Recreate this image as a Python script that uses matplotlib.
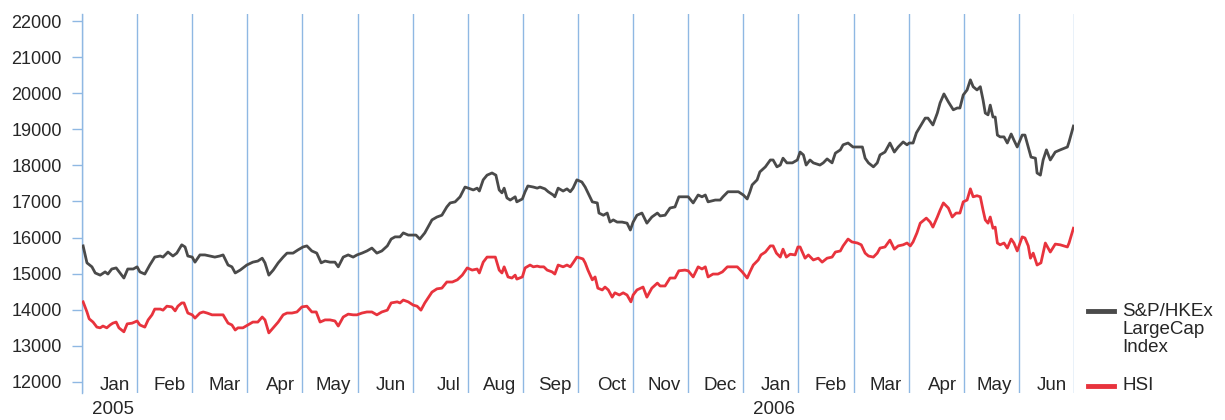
import matplotlib
matplotlib.use("Agg")
import matplotlib.pyplot as plt
import matplotlib.transforms as mtransforms
from matplotlib.lines import Line2D

plt.rcParams['font.family'] = ['Liberation Sans', 'DejaVu Sans']

months = ['Jan', 'Feb', 'Mar', 'Apr', 'May', 'Jun', 'Jul', 'Aug', 'Sep',
          'Oct', 'Nov', 'Dec', 'Jan', 'Feb', 'Mar', 'Apr', 'May', 'Jun']
years = ['2005', '2006']
year_month_index = [0, 12]
y_ticks = [12000, 13000, 14000, 15000, 16000, 17000, 18000, 19000, 20000, 21000, 22000]

# time in months since 1 Jan 2005
lc_t = [0.02, 0.09, 0.18, 0.24, 0.33, 0.42, 0.47, 0.54, 0.62, 0.69, 0.76, 0.83, 0.93,
        1.00, 1.05, 1.14, 1.23, 1.32, 1.42, 1.47, 1.56, 1.65, 1.72, 1.81, 1.87, 1.92,
        2.00, 2.05, 2.14, 2.23, 2.32, 2.41, 2.50, 2.56, 2.65, 2.72, 2.78, 2.87,
        2.99, 3.10, 3.19, 3.27, 3.32, 3.39, 3.47, 3.56, 3.65, 3.72, 3.83, 3.92,
        4.01, 4.08, 4.17, 4.26, 4.34, 4.41, 4.50, 4.59, 4.65, 4.74, 4.83, 4.92,
        4.99, 5.08, 5.17, 5.26, 5.35, 5.44, 5.54, 5.61, 5.68, 5.77, 5.83, 5.92,
        5.99, 6.06, 6.13, 6.22, 6.35, 6.44, 6.53, 6.62, 6.68, 6.77, 6.86, 6.95,
        7.01, 7.10, 7.17, 7.21, 7.28, 7.35, 7.44, 7.51, 7.57, 7.62, 7.66, 7.71, 7.77, 7.86, 7.89,
        7.99, 8.04, 8.09, 8.19, 8.26, 8.31, 8.40, 8.46, 8.55, 8.58, 8.64, 8.73, 8.80, 8.86, 8.91,
        8.98, 9.07, 9.13, 9.18, 9.26, 9.35, 9.38, 9.46, 9.53, 9.58, 9.64, 9.71, 9.80, 9.89, 9.95,
        10.00, 10.07, 10.16, 10.25, 10.34, 10.44, 10.49, 10.58, 10.67, 10.76, 10.83, 10.94,
        11.00, 11.09, 11.18, 11.25, 11.31, 11.36, 11.49, 11.58, 11.63, 11.72, 11.81, 11.91,
        12.00, 12.07, 12.12, 12.16, 12.25, 12.30, 12.40, 12.49, 12.54, 12.61, 12.67, 12.72, 12.79, 12.89,
        12.98, 13.03, 13.09, 13.14, 13.21, 13.27, 13.39, 13.45, 13.52, 13.61, 13.67, 13.76, 13.81, 13.90,
        13.99, 14.08, 14.16, 14.21, 14.27, 14.36, 14.43, 14.48, 14.57, 14.66, 14.74, 14.81, 14.90, 14.97,
        15.01, 15.08, 15.14, 15.19, 15.30, 15.35, 15.44, 15.52, 15.57, 15.64, 15.72, 15.81, 15.88, 15.93,
        15.99, 16.06, 16.12, 16.17, 16.24, 16.30, 16.35, 16.39, 16.44, 16.48, 16.53, 16.57, 16.61, 16.66,
        16.73, 16.79, 16.86, 16.91, 16.97, 17.06, 17.11, 17.17, 17.22, 17.30, 17.33, 17.39, 17.44, 17.50,
        17.57, 17.66, 17.75, 17.88, 17.91, 17.99]
lc_v = [15770, 15300, 15190, 15020, 14960, 15050, 14990, 15130, 15160, 15020, 14880, 15130, 15130,
        15190, 15050, 14990, 15240, 15460, 15490, 15460, 15600, 15490, 15570, 15800, 15740, 15490,
        15460, 15320, 15520, 15520, 15490, 15460, 15490, 15520, 15240, 15190, 15020, 15100,
        15240, 15320, 15350, 15430, 15300, 14960, 15100, 15300, 15460, 15570, 15570, 15660,
        15740, 15770, 15630, 15570, 15300, 15350, 15320, 15320, 15190, 15460, 15520, 15460,
        15520, 15570, 15630, 15710, 15570, 15630, 15770, 15960, 16020, 16020, 16130, 16070,
        16070, 16070, 15960, 16130, 16490, 16570, 16620, 16850, 16960, 16990, 17130, 17400,
        17370, 17320, 17370, 17290, 17600, 17730, 17790, 17730, 17320, 17240, 17370, 17100, 17040, 17130, 16990,
        17070, 17270, 17430, 17400, 17370, 17400, 17350, 17270, 17180, 17130, 17370, 17290, 17350, 17270, 17370,
        17600, 17540, 17400, 17240, 16990, 16960, 16680, 16620, 16680, 16430, 16490, 16430, 16430, 16400, 16210,
        16430, 16620, 16680, 16400, 16570, 16680, 16600, 16620, 16820, 16850, 17130, 17130,
        17130, 16960, 17180, 17130, 17180, 16990, 17040, 17040, 17130, 17270, 17270, 17270,
        17180, 17070, 17270, 17460, 17600, 17820, 17960, 18150, 18150, 17960, 18010, 18200, 18070, 18070,
        18150, 18370, 18290, 18010, 18150, 18070, 18010, 18070, 18180, 18070, 18340, 18430, 18570, 18620,
        18510, 18510, 18510, 18200, 18070, 17960, 18070, 18290, 18370, 18620, 18370, 18510, 18650, 18570,
        18620, 18620, 18900, 19030, 19310, 19310, 19120, 19450, 19730, 19980, 19760, 19540, 19590, 19590,
        19950, 20090, 20370, 20180, 20090, 20180, 19810, 19450, 19400, 19670, 19340, 19340, 18840, 18790,
        18790, 18620, 18870, 18700, 18510, 18840, 18840, 18510, 18230, 18200, 17790, 17730, 18150, 18430,
        18150, 18370, 18430, 18510, 18650, 19090]

hsi_t = [0.02, 0.09, 0.13, 0.20, 0.27, 0.33, 0.38, 0.45, 0.51, 0.56, 0.62, 0.67, 0.76, 0.82, 0.91,
         1.00, 1.05, 1.14, 1.20, 1.27, 1.32, 1.42, 1.47, 1.54, 1.63, 1.69, 1.74, 1.81, 1.85, 1.92,
         2.00, 2.05, 2.14, 2.20, 2.27, 2.36, 2.45, 2.56, 2.65, 2.72, 2.78, 2.83, 2.92,
         3.01, 3.10, 3.19, 3.27, 3.32, 3.39, 3.47, 3.56, 3.65, 3.72, 3.81, 3.90,
         3.99, 4.08, 4.17, 4.25, 4.32, 4.41, 4.50, 4.59, 4.65, 4.74, 4.83, 4.92,
         4.99, 5.08, 5.17, 5.26, 5.35, 5.44, 5.54, 5.61, 5.72, 5.77, 5.83, 5.92,
         6.01, 6.08, 6.15, 6.22, 6.35, 6.44, 6.53, 6.62, 6.72, 6.81, 6.90,
         6.99, 7.08, 7.17, 7.21, 7.28, 7.35, 7.50, 7.57, 7.62, 7.66, 7.73, 7.80, 7.86, 7.89,
         7.99, 8.04, 8.13, 8.19, 8.26, 8.31, 8.38, 8.44, 8.53, 8.58, 8.64, 8.73, 8.80, 8.86, 8.91,
         8.98, 9.09, 9.13, 9.18, 9.26, 9.31, 9.36, 9.44, 9.49, 9.55, 9.62, 9.67, 9.75, 9.82, 9.89, 9.96,
         10.00, 10.07, 10.18, 10.25, 10.34, 10.44, 10.49, 10.58, 10.67, 10.76, 10.83, 10.94,
         11.00, 11.09, 11.18, 11.25, 11.31, 11.36, 11.45, 11.54, 11.62, 11.71, 11.80, 11.89,
         11.98, 12.07, 12.12, 12.18, 12.27, 12.32, 12.40, 12.49, 12.54, 12.60, 12.67, 12.72, 12.78, 12.85, 12.94,
         12.99, 13.03, 13.12, 13.18, 13.27, 13.36, 13.43, 13.52, 13.61, 13.67, 13.76, 13.81, 13.90,
         13.97, 14.07, 14.14, 14.21, 14.27, 14.36, 14.43, 14.48, 14.57, 14.66, 14.74, 14.81, 14.90, 14.97,
         15.03, 15.08, 15.15, 15.21, 15.32, 15.39, 15.44, 15.52, 15.57, 15.63, 15.72, 15.79, 15.86, 15.93,
         15.99, 16.06, 16.12, 16.17, 16.24, 16.30, 16.35, 16.39, 16.44, 16.48, 16.53, 16.57, 16.61, 16.66,
         16.73, 16.79, 16.86, 16.91, 16.97, 17.06, 17.11, 17.17, 17.21, 17.26, 17.33, 17.40, 17.48,
         17.57, 17.66, 17.75, 17.88, 17.91, 17.99]
hsi_v = [14220, 13940, 13750, 13660, 13520, 13500, 13550, 13500, 13580, 13630, 13660, 13500, 13390, 13610, 13630,
         13690, 13580, 13520, 13720, 13860, 14020, 14020, 13990, 14100, 14080, 13970, 14100, 14190, 14190, 13910,
         13860, 13770, 13910, 13940, 13910, 13860, 13860, 13860, 13630, 13580, 13440, 13500, 13500,
         13580, 13660, 13660, 13800, 13720, 13360, 13500, 13660, 13860, 13910, 13910, 13940,
         14080, 14100, 13940, 13940, 13660, 13720, 13720, 13690, 13550, 13800, 13880, 13860,
         13860, 13910, 13940, 13940, 13860, 13940, 13990, 14190, 14220, 14190, 14270, 14220,
         14130, 14100, 13990, 14190, 14490, 14580, 14600, 14770, 14770, 14830, 14960,
         15160, 15100, 15130, 15020, 15320, 15460, 15460, 15100, 15020, 15190, 14910, 14880, 14960, 14850,
         14910, 15160, 15240, 15190, 15210, 15190, 15190, 15100, 15050, 14990, 15240, 15190, 15240, 15190, 15300,
         15460, 15410, 15300, 15100, 14830, 14910, 14600, 14550, 14630, 14550, 14350, 14470, 14410, 14470, 14410, 14220,
         14410, 14550, 14630, 14350, 14600, 14740, 14660, 14660, 14880, 14880, 15080, 15100,
         15080, 14910, 15190, 15130, 15190, 14910, 14990, 14990, 15050, 15190, 15190, 15190,
         15050, 14880, 15050, 15240, 15380, 15520, 15600, 15770, 15770, 15570, 15460, 15680, 15460, 15540, 15520,
         15740, 15740, 15430, 15520, 15380, 15430, 15320, 15430, 15460, 15600, 15630, 15770, 15960,
         15880, 15850, 15800, 15570, 15490, 15460, 15570, 15710, 15740, 15930, 15680, 15770, 15800, 15850,
         15770, 15880, 16130, 16400, 16540, 16430, 16290, 16570, 16760, 16960, 16820, 16570, 16680, 16680,
         16990, 17040, 17350, 17130, 17160, 17130, 16760, 16490, 16400, 16570, 16260, 16290, 15850, 15800,
         15850, 15710, 15960, 15850, 15630, 16020, 15990, 15770, 15430, 15570, 15240, 15300, 15850,
         15600, 15820, 15800, 15740, 15850, 16260]

GRAY = '#4a4a4a'
RED = '#e8333d'
BLUE = '#8fb8e3'
TXT = '#262626'

fig = plt.figure(figsize=(12.25, 4.2), dpi=100)
ax = fig.add_axes([82 / 1225, 1 - 393 / 420, (1074 - 82) / 1225, (393 - 14) / 420])

for b in range(len(months) + 1):
    ax.axvline(b, color=BLUE, lw=1.0, zorder=1)

ax.plot(lc_t, lc_v, color=GRAY, lw=2.0, zorder=3, solid_joinstyle='round')
ax.plot(hsi_t, hsi_v, color=RED, lw=2.0, zorder=3, solid_joinstyle='round')

ax.set_xlim(0, len(months))
ax.set_ylim(11695, 22194)
ax.set_yticks(y_ticks)
ax.set_yticklabels([str(v) for v in y_ticks])
ax.tick_params(axis='y', length=7.5, width=1.0, color=BLUE, pad=7,
               labelsize=13, labelcolor=TXT)
ax.set_xticks([])
for s in ['top', 'right', 'bottom']:
    ax.spines[s].set_visible(False)
ax.spines['left'].set_color(BLUE)
ax.spines['left'].set_linewidth(1.0)

blend = mtransforms.blended_transform_factory(ax.transData, ax.transAxes)
off = mtransforms.ScaledTranslation(-7 / 100, 0, fig.dpi_scale_trans)
for i, m in enumerate(months):
    ax.text(i + 1, 7 / 379, m, transform=blend + off, ha='right', va='center',
            fontsize=13.5, color=TXT)

for yi, yr in zip(year_month_index, years):
    ax.text(yi + 0.56, -17 / 379, yr, transform=blend, ha='center', va='center',
            fontsize=13.5, color=TXT)

# legend
fig.add_artist(Line2D([1088 / 1225, 1114 / 1225], [1 - 311 / 420] * 2, color=GRAY, lw=3.5))
fig.add_artist(Line2D([1088 / 1225, 1114 / 1225], [1 - 386 / 420] * 2, color=RED, lw=3.5))
fig.text(1122 / 1225, 1 - 312 / 420, 'S&P/HKEx\nLargeCap\nIndex', ha='left', va='top',
         fontsize=13.5, color=TXT, linespacing=1.08,
         transform=fig.transFigure + mtransforms.ScaledTranslation(0, 9 / 100, fig.dpi_scale_trans))
fig.text(1122 / 1225, 1 - 386 / 420, 'HSI', ha='left', va='center', fontsize=13.5, color=TXT)

fig.savefig('out.png', dpi=100, facecolor='white')
